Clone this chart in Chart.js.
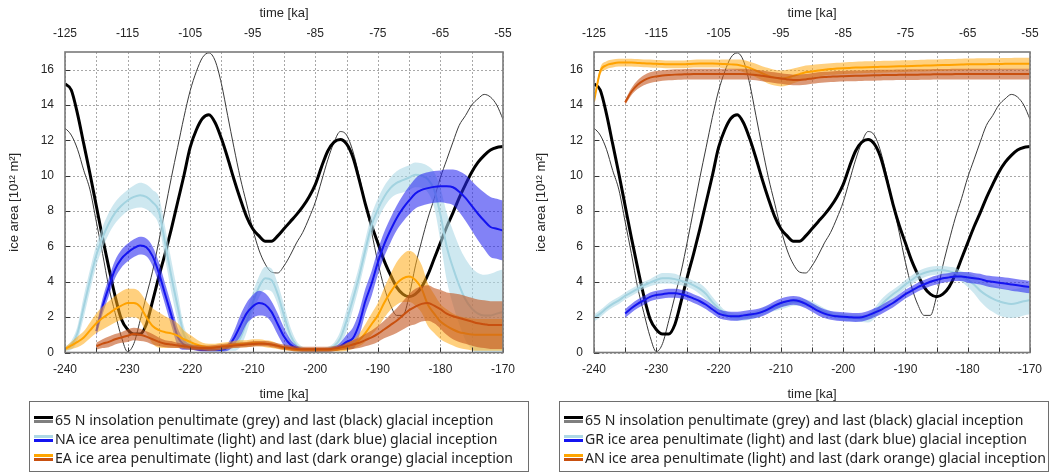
<!doctype html>
<html>

<head>
    <title>Glacial inception ice area</title>
    <meta name="viewport" content="width=device-width, initial-scale=1">
    <script src="https://cdn.jsdelivr.net/npm/chart.js"></script>
    <style>
        body {
            margin: 0;
            background: #fff;
            width: 1052px;
            height: 474px;
            overflow: hidden;
            position: relative;
        }

        canvas {
            position: absolute;
            top: 0;
        }

        .legend {
            position: absolute;
            top: 401px;
            height: 71px;
            box-sizing: border-box;
            border: 1px solid #6e6e6e;
            padding-top: 8px;
            font-family: 'Noto Sans';
            font-size: 14.1px;
            color: #222;
        }

        .row {
            position: relative;
            height: 19px;
            line-height: 19px;
            padding-left: 25px;
            white-space: nowrap;
        }

        .mk {
            position: absolute;
            left: 4px;
            top: 6px;
            width: 19px;
        }

        .mk b {
            display: block;
            height: 2.5px;
            margin-bottom: 1.8px;
        }
    </style>
</head>

<body>
    <canvas id="left" width="525" height="404" style="left:0px"></canvas>
    <canvas id="right" width="525" height="404" style="left:527px"></canvas>

    <div class="legend" style="left:29px;width:500px">
        <div class="row"><span class="mk"><b style="background:#000"></b><b style="background:#7f7f7f"></b></span>65 N insolation penultimate (grey) and last (black) glacial inception</div>
        <div class="row"><span class="mk"><b style="background:#add8e6"></b><b style="background:#1414f0"></b></span>NA ice area penultimate (light) and last (dark blue) glacial inception</div>
        <div class="row"><span class="mk"><b style="background:#ffa500"></b><b style="background:#c8500f"></b></span>EA ice area penultimate (light) and last (dark orange) glacial inception</div>
    </div>
    <div class="legend" style="left:559px;width:490px">
        <div class="row"><span class="mk"><b style="background:#000"></b><b style="background:#7f7f7f"></b></span>65 N insolation penultimate (grey) and last (black) glacial inception</div>
        <div class="row"><span class="mk"><b style="background:#add8e6"></b><b style="background:#1414f0"></b></span>GR ice area penultimate (light) and last (dark blue) glacial inception</div>
        <div class="row"><span class="mk"><b style="background:#ffa500"></b><b style="background:#c8500f"></b></span>AN ice area penultimate (light) and last (dark orange) glacial inception</div>
    </div>

    <script>
        // time axis of the penultimate inception (bottom axis), 1 ka steps
        const years = [-240, -239, -238, -237, -236, -235, -234, -233, -232, -231,
            -230, -229, -228, -227, -226, -225, -224, -223, -222, -221,
            -220, -219, -218, -217, -216, -215, -214, -213, -212, -211,
            -210, -209, -208, -207, -206, -205, -204, -203, -202, -201,
            -200, -199, -198, -197, -196, -195, -194, -193, -192, -191,
            -190, -189, -188, -187, -186, -185, -184, -183, -182, -181,
            -180, -179, -178, -177, -176, -175, -174, -173, -172, -171, -170]

        // 65N insolation, scaled onto the ice area axis
        const insLast = [15.2, 14.85, 13.5, 11.8, 10.1, 8.3, 6.5, 4.8, 3.2, 1.9,
            1.3, 1.05, 1.05, 1.6, 2.9, 4.3, 5.6, 7.0, 8.5, 10.0,
            11.6, 12.6, 13.25, 13.45, 13.0, 12.1, 11.0, 9.8, 8.7, 7.7,
            7.0, 6.6, 6.3, 6.3, 6.6, 7.0, 7.4, 7.8, 8.25, 8.8,
            9.5, 10.5, 11.4, 11.9, 12.05, 11.8, 11.06, 9.8, 8.4, 7.2,
            6.2, 5.2, 4.4, 3.7, 3.3, 3.15, 3.3, 3.7, 4.4, 5.3,
            6.2, 7.1, 7.9, 8.75, 9.5, 10.2, 10.75, 11.15, 11.45, 11.6, 11.65]
        const insPen = [12.7, 12.3, 11.5, 10.3, 9.2, 7.4, 5.6, 3.7, 2.25, 0.9,
            0.05, 0.5, 1.8, 3.2, 4.6, 6.3, 8.1, 9.9, 11.6, 13.3,
            14.8, 15.9, 16.7, 16.95, 16.5, 15.2, 13.4, 11.6, 9.9, 8.45,
            7.0, 5.8, 5.0, 4.55, 4.5, 4.9, 5.5, 6.2, 6.8, 7.6,
            8.5, 9.7, 10.9, 11.9, 12.5, 12.3, 11.4, 10.0, 8.4, 6.8,
            5.1, 3.7, 2.7, 2.1, 2.1, 3.2, 4.9, 6.3, 7.6, 8.7,
            9.9, 10.9, 11.9, 12.85, 13.4, 14.0, 14.35, 14.6, 14.45, 14.0, 13.2]

        // North America
        const naPen = [0.2, 0.4, 1.1, 2.6, 4.1, 5.5, 6.5, 7.3, 7.9, 8.3,
            8.6, 8.8, 8.9, 8.8, 8.5, 8.0, 6.2, 4.3, 2.6, 1.0,
            0.5, 0.3, 0.25, 0.2, 0.2, 0.2, 0.25, 0.35, 0.8, 1.7,
            2.8, 3.7, 4.2, 4.1, 3.3, 2.1, 1.0, 0.4, 0.2, 0.15,
            0.15, 0.15, 0.2, 0.35, 0.8, 1.8, 3.0, 4.3, 5.8, 7.2,
            8.1, 8.8, 9.3, 9.6, 9.75, 9.9, 10.05, 10.0, 9.8, 9.2,
            7.8, 6.0, 4.8, 3.8, 3.0, 2.5, 2.2, 2.1, 2.1, 2.2, 2.3]
        const naPenSd = [0.12, 0.25, 0.4, 0.6, 0.6, 0.6, 0.6, 0.6, 0.6, 0.6,
            0.6, 0.65, 0.7, 0.7, 0.7, 0.8, 0.9, 0.9, 0.8, 0.5,
            0.3, 0.15, 0.15, 0.15, 0.15, 0.15, 0.15, 0.25, 0.5, 0.6,
            0.6, 0.6, 0.65, 0.65, 0.6, 0.6, 0.45, 0.25, 0.12, 0.1,
            0.1, 0.1, 0.12, 0.2, 0.4, 0.6, 0.6, 0.6, 0.6, 0.6,
            0.6, 0.6, 0.6, 0.65, 0.7, 0.7, 0.7, 0.7, 0.75, 1.0,
            1.5, 1.9, 2.1, 2.2, 2.3, 2.3, 2.3, 2.3, 2.35, 2.4, 2.4]
        const naLast = [null, null, null, null, null, 1.2, 2.6, 3.7, 4.7, 5.3,
            5.65, 5.9, 6.05, 5.95, 5.45, 4.5, 3.3, 2.1, 0.9, 0.45,
            0.3, 0.2, 0.15, 0.15, 0.15, 0.15, 0.3, 0.8, 1.5, 2.2,
            2.6, 2.8, 2.7, 2.3, 1.6, 0.9, 0.45, 0.25, 0.15, 0.15,
            0.15, 0.15, 0.15, 0.2, 0.35, 0.6, 0.8, 1.6, 2.9, 3.9,
            5.1, 6.1, 6.9, 7.6, 8.15, 8.6, 9.0, 9.2, 9.3, 9.37,
            9.4, 9.4, 9.35, 9.1, 8.75, 8.3, 7.85, 7.45, 7.1, 7.0, 6.9]
        const naLastSd = [0, 0, 0, 0, 0, 0.3, 0.45, 0.5, 0.5, 0.5,
            0.5, 0.5, 0.5, 0.5, 0.55, 0.6, 0.6, 0.6, 0.5, 0.3,
            0.15, 0.1, 0.1, 0.1, 0.1, 0.1, 0.2, 0.4, 0.6, 0.6,
            0.65, 0.7, 0.65, 0.6, 0.6, 0.5, 0.3, 0.15, 0.1, 0.1,
            0.1, 0.1, 0.1, 0.12, 0.2, 0.4, 0.6, 0.7, 0.7, 0.7,
            0.7, 0.7, 0.7, 0.7, 0.75, 0.8, 0.85, 0.9, 0.9, 0.9,
            0.9, 0.95, 1.0, 1.15, 1.3, 1.4, 1.5, 1.6, 1.7, 1.7, 1.7]

        // Eurasia
        const eaPen = [0.2, 0.4, 0.6, 0.85, 1.25, 1.65, 1.95, 2.2, 2.45, 2.65,
            2.8, 2.8, 2.6, 2.0, 1.5, 1.27, 1.15, 1.08, 0.95, 0.75,
            0.6, 0.45, 0.35, 0.3, 0.3, 0.35, 0.4, 0.45, 0.5, 0.5,
            0.55, 0.55, 0.5, 0.45, 0.35, 0.25, 0.2, 0.15, 0.15, 0.15,
            0.15, 0.15, 0.15, 0.15, 0.2, 0.3, 0.45, 0.7, 1.1, 1.6,
            2.1, 2.8, 3.4, 3.9, 4.2, 4.3, 4.1, 3.6, 2.7, 2.2,
            1.75, 1.5, 1.3, 1.15, 1.08, 1.02, 1.0, 1.0, 1.0, 1.0, 1.0]
        const eaPenSd = [0.1, 0.2, 0.3, 0.35, 0.45, 0.55, 0.65, 0.7, 0.75, 0.8,
            0.8, 0.8, 0.8, 0.9, 1.0, 1.0, 0.9, 0.8, 0.7, 0.5,
            0.4, 0.3, 0.2, 0.2, 0.2, 0.2, 0.2, 0.2, 0.2, 0.2,
            0.2, 0.2, 0.2, 0.2, 0.15, 0.12, 0.1, 0.1, 0.1, 0.1,
            0.1, 0.1, 0.1, 0.1, 0.15, 0.2, 0.25, 0.35, 0.5, 0.6,
            0.7, 0.85, 1.0, 1.2, 1.35, 1.45, 1.45, 1.35, 1.2, 1.1,
            1.0, 0.95, 0.9, 0.9, 0.9, 0.9, 0.9, 0.9, 0.9, 0.9, 0.9]
        const eaLast = [null, null, null, null, null, 0.35, 0.5, 0.6, 0.75, 0.85,
            0.95, 1.05, 1.0, 0.9, 0.75, 0.6, 0.5, 0.45, 0.4, 0.35,
            0.3, 0.28, 0.25, 0.25, 0.28, 0.32, 0.36, 0.4, 0.42, 0.45,
            0.48, 0.5, 0.5, 0.45, 0.38, 0.3, 0.25, 0.2, 0.18, 0.18,
            0.18, 0.18, 0.18, 0.22, 0.28, 0.35, 0.45, 0.55, 0.7, 0.85,
            1.05, 1.3, 1.55, 1.8, 2.1, 2.4, 2.6, 2.75, 2.8, 2.65,
            2.45, 2.2, 2.05, 1.95, 1.85, 1.75, 1.65, 1.6, 1.55, 1.55, 1.55]
        const eaLastSd = [0, 0, 0, 0, 0, 0.2, 0.25, 0.3, 0.3, 0.3,
            0.35, 0.35, 0.35, 0.3, 0.3, 0.25, 0.2, 0.2, 0.15, 0.15,
            0.15, 0.15, 0.15, 0.15, 0.15, 0.15, 0.15, 0.15, 0.15, 0.15,
            0.15, 0.15, 0.15, 0.15, 0.15, 0.15, 0.15, 0.15, 0.15, 0.15,
            0.15, 0.15, 0.15, 0.15, 0.15, 0.2, 0.25, 0.3, 0.35, 0.4,
            0.45, 0.5, 0.6, 0.7, 0.8, 0.9, 1.0, 1.0, 1.0, 1.0,
            1.1, 1.2, 1.3, 1.35, 1.35, 1.35, 1.35, 1.35, 1.35, 1.35, 1.35]

        // Greenland
        const grPen = [1.95, 2.2, 2.5, 2.75, 2.95, 3.2, 3.4, 3.6, 3.8, 3.95,
            4.1, 4.2, 4.2, 4.15, 4.05, 3.95, 3.8, 3.6, 3.3, 2.85,
            2.5, 2.2, 2.05, 2.0, 2.0, 2.05, 2.15, 2.3, 2.45, 2.55,
            2.65, 2.75, 2.85, 2.85, 2.8, 2.7, 2.5, 2.3, 2.15, 2.05,
            2.0, 1.95, 1.95, 1.92, 1.95, 2.2, 2.65, 3.0, 3.3, 3.55,
            3.85, 4.1, 4.35, 4.5, 4.6, 4.65, 4.65, 4.6, 4.5, 4.3,
            4.1, 3.85, 3.5, 3.25, 3.05, 2.9, 2.8, 2.75, 2.8, 2.9, 2.97]
        const grPenSd = [0.2, 0.2, 0.2, 0.2, 0.2, 0.2, 0.2, 0.2, 0.2, 0.2,
            0.25, 0.3, 0.3, 0.3, 0.25, 0.25, 0.25, 0.3, 0.3, 0.3,
            0.25, 0.2, 0.2, 0.2, 0.2, 0.2, 0.2, 0.2, 0.2, 0.2,
            0.2, 0.2, 0.2, 0.2, 0.2, 0.2, 0.2, 0.2, 0.2, 0.2,
            0.2, 0.2, 0.2, 0.2, 0.25, 0.3, 0.3, 0.3, 0.25, 0.25,
            0.25, 0.25, 0.25, 0.25, 0.25, 0.25, 0.25, 0.25, 0.3, 0.3,
            0.4, 0.5, 0.6, 0.7, 0.75, 0.8, 0.8, 0.8, 0.8, 0.8, 0.8]
        const grLast = [null, null, null, null, null, 2.2, 2.5, 2.75, 2.95, 3.15,
            3.25, 3.3, 3.35, 3.35, 3.3, 3.2, 3.05, 2.9, 2.7, 2.45,
            2.2, 2.1, 2.05, 2.05, 2.1, 2.15, 2.2, 2.3, 2.45, 2.65,
            2.8, 2.9, 2.95, 2.9, 2.75, 2.55, 2.35, 2.2, 2.1, 2.05,
            2.02, 2.0, 1.98, 2.0, 2.1, 2.25, 2.4, 2.6, 2.8, 3.05,
            3.3, 3.5, 3.7, 3.85, 4.0, 4.1, 4.2, 4.25, 4.3, 4.3,
            4.25, 4.2, 4.15, 4.05, 4.0, 3.95, 3.9, 3.85, 3.8, 3.75, 3.7]
        const grLastSd = [0, 0, 0, 0, 0, 0.25, 0.25, 0.25, 0.25, 0.25,
            0.25, 0.25, 0.25, 0.25, 0.25, 0.25, 0.25, 0.25, 0.25, 0.25,
            0.25, 0.25, 0.25, 0.25, 0.25, 0.25, 0.25, 0.25, 0.25, 0.25,
            0.25, 0.25, 0.25, 0.25, 0.25, 0.25, 0.25, 0.25, 0.25, 0.25,
            0.25, 0.25, 0.25, 0.25, 0.25, 0.25, 0.25, 0.25, 0.25, 0.25,
            0.25, 0.25, 0.25, 0.25, 0.25, 0.25, 0.25, 0.25, 0.25, 0.25,
            0.3, 0.3, 0.3, 0.3, 0.32, 0.33, 0.34, 0.35, 0.35, 0.35, 0.35]

        // Antarctica
        const anPen = [14.2, 15.9, 16.25, 16.35, 16.4, 16.4, 16.4, 16.38, 16.36, 16.35,
            16.33, 16.32, 16.3, 16.3, 16.3, 16.32, 16.34, 16.35, 16.35, 16.35,
            16.34, 16.32, 16.3, 16.28, 16.2, 16.1, 15.95, 15.8, 15.65, 15.55,
            15.5, 15.55, 15.65, 15.75, 15.85, 15.9, 15.95, 16.0, 16.04, 16.06,
            16.08, 16.1, 16.12, 16.13, 16.14, 16.15, 16.16, 16.17, 16.18, 16.19,
            16.2, 16.21, 16.22, 16.23, 16.24, 16.25, 16.26, 16.27, 16.28, 16.29,
            16.3, 16.3, 16.31, 16.31, 16.32, 16.32, 16.33, 16.33, 16.34, 16.34, 16.34]
        const anPenSd = [0.1, 0.2, 0.22, 0.22, 0.22, 0.22, 0.22, 0.22, 0.22, 0.22,
            0.22, 0.22, 0.22, 0.22, 0.22, 0.22, 0.22, 0.22, 0.22, 0.22,
            0.22, 0.25, 0.28, 0.3, 0.35, 0.35, 0.38, 0.4, 0.45, 0.45,
            0.45, 0.45, 0.42, 0.4, 0.38, 0.36, 0.35, 0.33, 0.33, 0.33,
            0.33, 0.33, 0.33, 0.33, 0.33, 0.33, 0.33, 0.33, 0.33, 0.33,
            0.33, 0.33, 0.33, 0.33, 0.33, 0.33, 0.33, 0.33, 0.33, 0.33,
            0.33, 0.33, 0.33, 0.33, 0.33, 0.33, 0.33, 0.33, 0.33, 0.33, 0.33]
        const anLast = [null, null, null, null, null, 14.15, 14.75, 15.15, 15.4, 15.55,
            15.62, 15.67, 15.7, 15.72, 15.73, 15.74, 15.75, 15.75, 15.75, 15.75,
            15.75, 15.75, 15.75, 15.75, 15.75, 15.73, 15.7, 15.65, 15.6, 15.55,
            15.5, 15.45, 15.42, 15.42, 15.45, 15.5, 15.55, 15.58, 15.6, 15.62,
            15.63, 15.64, 15.65, 15.66, 15.67, 15.68, 15.69, 15.7, 15.7, 15.71,
            15.71, 15.72, 15.72, 15.73, 15.73, 15.74, 15.74, 15.74, 15.75, 15.75,
            15.75, 15.75, 15.75, 15.75, 15.75, 15.75, 15.75, 15.75, 15.75, 15.75, 15.75]
        const anLastSd = [0, 0, 0, 0, 0, 0.15, 0.2, 0.25, 0.28, 0.3,
            0.3, 0.3, 0.3, 0.3, 0.3, 0.3, 0.3, 0.3, 0.3, 0.3,
            0.3, 0.3, 0.3, 0.3, 0.3, 0.3, 0.3, 0.3, 0.3, 0.3,
            0.3, 0.3, 0.3, 0.3, 0.3, 0.3, 0.3, 0.3, 0.3, 0.3,
            0.3, 0.3, 0.3, 0.3, 0.3, 0.3, 0.3, 0.3, 0.3, 0.3,
            0.3, 0.3, 0.3, 0.3, 0.3, 0.3, 0.3, 0.3, 0.3, 0.3,
            0.3, 0.3, 0.3, 0.3, 0.3, 0.3, 0.3, 0.3, 0.3, 0.3, 0.3]

        const bottomTicks = [-240, -230, -220, -210, -200, -190, -180, -170]
        const topTicks = [-125, -115, -105, -95, -85, -75, -65, -55]

        const LIGHT_BLUE = '#a3d3e0', LIGHT_BLUE_BAND = 'rgba(173, 216, 230, 0.6)'
        const BLUE = '#1414f0', BLUE_BAND = 'rgba(40, 40, 240, 0.58)'
        const ORANGE = '#ffa200', ORANGE_BAND = 'rgba(255, 170, 20, 0.55)'
        const DARK_ORANGE = '#c8500f', DARK_ORANGE_BAND = 'rgba(195, 85, 30, 0.6)'

        Chart.defaults.font.family = 'Liberation Sans'
        Chart.defaults.color = '#262626'

        const pts = arr => arr.map((v, i) => ({ x: years[i], y: v }))

        function curve(values, color, width, order) {
            return {
                data: pts(values), borderColor: color, borderWidth: width, pointRadius: 0,
                fill: false, cubicInterpolationMode: 'monotone', order: order
            }
        }

        // lower edge, upper edge filled down to it, then the mean line
        function band(mean, sd, line, fill, order) {
            const lo = mean.map((m, i) => m == null ? null : m - sd[i])
            const hi = mean.map((m, i) => m == null ? null : m + sd[i])
            return [
                { data: pts(lo), borderWidth: 0, pointRadius: 0, fill: false, cubicInterpolationMode: 'monotone', order: order },
                { data: pts(hi), borderWidth: 0, pointRadius: 0, fill: '-1', backgroundColor: fill, cubicInterpolationMode: 'monotone', order: order },
                curve(mean, line, 2, order - 1)
            ]
        }

        // dotted grid, inward ticks and the box round the plot
        const frame = {
            id: 'frame',
            beforeDatasetsDraw(chart) {
                const { ctx, chartArea: a, scales } = chart
                ctx.save()
                ctx.strokeStyle = '#a8a8a8'
                ctx.lineWidth = 1
                ctx.setLineDash([2, 2])
                ctx.beginPath()
                scales.y.ticks.forEach(t => {
                    const y = Math.round(scales.y.getPixelForValue(t.value)) + 0.5
                    ctx.moveTo(a.left, y)
                    ctx.lineTo(a.right, y)
                })
                scales.x.ticks.forEach(t => {
                    const x = Math.round(scales.x.getPixelForValue(t.value)) + 0.5
                    ctx.moveTo(x, a.top)
                    ctx.lineTo(x, a.bottom)
                })
                ctx.stroke()
                ctx.restore()
            },
            afterDraw(chart) {
                const { ctx, chartArea: a, scales } = chart
                ctx.save()
                ctx.strokeStyle = '#333'
                ctx.lineWidth = 1
                ctx.beginPath()
                scales.y.ticks.forEach(t => {
                    const y = Math.round(scales.y.getPixelForValue(t.value)) + 0.5
                    ctx.moveTo(a.left, y)
                    ctx.lineTo(a.left + 5, y)
                })
                scales.x.ticks.forEach(t => {
                    const x = Math.round(scales.x.getPixelForValue(t.value)) + 0.5
                    ctx.moveTo(x, a.bottom)
                    ctx.lineTo(x, a.bottom - 5)
                })
                ctx.stroke()
                ctx.strokeStyle = '#7a7a7a'
                ctx.lineWidth = 1.6
                ctx.strokeRect(a.left, a.top, a.right - a.left, a.bottom - a.top)
                ctx.restore()
            }
        }

        function makeChart(id, datasets, yWidth, rightPad) {
            return new Chart(document.getElementById(id), {
                type: 'line',
                data: { datasets: datasets },
                plugins: [frame],
                options: {
                    responsive: false,
                    animation: false,
                    layout: { padding: { left: 0, right: rightPad, top: 0, bottom: 0 } },
                    plugins: { legend: { display: false }, tooltip: { enabled: false } },
                    scales: {
                        x: {
                            type: 'linear', position: 'bottom', min: -240, max: -170,
                            ticks: {
                                stepSize: 5, autoSkip: false, maxRotation: 0, padding: 10,
                                font: { size: 12 },
                                callback: v => bottomTicks.includes(v) ? String(v) : ''
                            },
                            grid: { display: false, drawTicks: false },
                            border: { display: false },
                            title: { display: true, text: 'time [ka]', font: { size: 13 }, padding: { top: 0, bottom: 2 } },
                            afterFit: s => { s.height = 51.5 }
                        },
                        xTop: {
                            type: 'linear', position: 'top', min: -125, max: -55,
                            ticks: {
                                stepSize: 10, autoSkip: false, maxRotation: 0, padding: 11,
                                font: { size: 12 },
                                callback: v => topTicks.includes(v) ? String(v) : ''
                            },
                            grid: { display: false, drawTicks: false },
                            border: { display: false },
                            title: { display: true, text: 'time [ka]', font: { size: 13 }, padding: { top: 6, bottom: 0 } },
                            afterFit: s => { s.height = 52 }
                        },
                        y: {
                            min: 0, max: 17,
                            ticks: { stepSize: 2, includeBounds: false, padding: 11, font: { size: 12 } },
                            grid: { display: false, drawTicks: false },
                            border: { display: false },
                            title: { display: true, text: 'ice area [10¹² m²]', font: { size: 13 }, padding: { top: 7, bottom: 0 } },
                            afterFit: s => { s.width = yWidth }
                        }
                    }
                }
            })
        }

        const insolation = [
            curve(insPen, '#3a3a3a', 1, 200),
            curve(insLast, '#000', 3, 199)
        ]

        makeChart('left', [
            ...insolation,
            ...band(naPen, naPenSd, LIGHT_BLUE, LIGHT_BLUE_BAND, 100),
            ...band(naLast, naLastSd, BLUE, BLUE_BAND, 90),
            ...band(eaPen, eaPenSd, ORANGE, ORANGE_BAND, 80),
            ...band(eaLast, eaLastSd, DARK_ORANGE, DARK_ORANGE_BAND, 70)
        ], 65, 16)

        makeChart('right', [
            ...insolation,
            ...band(grPen, grPenSd, LIGHT_BLUE, LIGHT_BLUE_BAND, 100),
            ...band(grLast, grLastSd, BLUE, BLUE_BAND, 90),
            ...band(anPen, anPenSd, ORANGE, ORANGE_BAND, 80),
            ...band(anLast, anLastSd, DARK_ORANGE, DARK_ORANGE_BAND, 70)
        ], 67, 17)
    </script>
</body>

</html>
